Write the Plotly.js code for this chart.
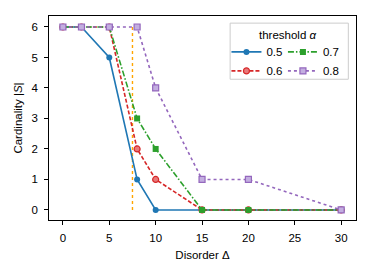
<!DOCTYPE html>
<html><head><meta charset="utf-8">
<script src="https://cdn.plot.ly/plotly-3.0.1.min.js"></script>
<style>html,body{margin:0;padding:0;background:#fff}#c{width:373px;height:274px}</style>
</head><body><div id="c"></div>
<script>
const disorder = [0, 2, 5, 8, 10, 15, 20, 30];
const card05 = [6, 6, 5, 1, 0, 0, 0, 0];
const card06 = [6, 6, 6, 2, 1, 0, 0, 0];
const card07 = [6, 6, 6, 3, 2, 0, 0, 0];
const card08 = [6, 6, 6, 6, 4, 1, 1, 0];
const thresholdLabels = ['0.5', '0.6', '0.7', '0.8'];
const criticalX = [7.5, 7.5];
const criticalY = [0, 6];

const F = 'Liberation Sans, Arial, Helvetica, sans-serif';
const FS = 11.5;
const traces = [
  {x: criticalX, y: criticalY, mode: 'lines', line: {color: '#ffa500', dash: 'dot', width: 1.4}, showlegend: false, hoverinfo: 'skip'},
  {x: disorder, y: card05, name: thresholdLabels[0], mode: 'lines+markers', legend: 'legend',
   line: {color: '#1f77b4', width: 1.6}, marker: {symbol: 'circle', size: 6, color: '#1f77b4'}},
  {x: disorder, y: card06, name: thresholdLabels[1], mode: 'lines+markers', legend: 'legend',
   line: {color: '#d62728', width: 1.6, dash: '4px,2px'}, marker: {symbol: 'circle', size: 6, color: '#e8787a', line: {color: '#d62728', width: 1.2}}},
  {x: disorder, y: card07, name: thresholdLabels[2], mode: 'lines+markers', legend: 'legend2',
   line: {color: '#2ca02c', width: 1.6, dash: '6px,2px,1.5px,2px'}, marker: {symbol: 'square', size: 6, color: '#2ca02c'}},
  {x: disorder, y: card08, name: thresholdLabels[3], mode: 'lines+markers', legend: 'legend2',
   line: {color: '#9467bd', width: 1.6, dash: 'dot'}, marker: {symbol: 'square', size: 6, color: '#c3aee0', line: {color: '#9467bd', width: 1.2}}}
];
const axisCommon = {showline: true, mirror: true, linecolor: '#000', linewidth: 1.2, ticks: 'outside', ticklen: 3.5, tickwidth: 1, tickcolor: '#000',
  showgrid: false, zeroline: false, tickfont: {family: F, size: FS, color: '#000'}};
const layout = {
  width: 373, height: 274,
  margin: {l: 49, r: 17, t: 16, b: 54},
  paper_bgcolor: '#fff', plot_bgcolor: '#fff',
  font: {family: F, size: FS, color: '#000'},
  xaxis: Object.assign({}, axisCommon, {range: [-1.5, 31.6], tickvals: [0, 5, 10, 15, 20, 25, 30], ticklabelstandoff: 3,
    title: {text: 'Disorder Δ', font: {family: F, size: FS}, standoff: 8}}),
  yaxis: Object.assign({}, axisCommon, {range: [-0.33, 6.36], tickvals: [0, 1, 2, 3, 4, 5, 6], ticklabelstandoff: 4,
    title: {text: 'Cardinality |<i>S</i>|', font: {family: F, size: FS}, standoff: 6}}),
  legend: {x: 0.578, y: 0.895, xanchor: 'left', yanchor: 'top', bgcolor: 'rgba(0,0,0,0)', itemwidth: 30,
    font: {family: F, size: FS}, tracegroupgap: 0},
  legend2: {x: 0.762, y: 0.895, xanchor: 'left', yanchor: 'top', bgcolor: 'rgba(0,0,0,0)', itemwidth: 30,
    font: {family: F, size: FS}, tracegroupgap: 0},
  shapes: [{type: 'rect', xref: 'paper', yref: 'paper', x0: 0.59, x1: 0.975, y0: 0.69, y1: 0.965,
    line: {color: '#cccccc', width: 1}, fillcolor: 'rgba(255,255,255,0.8)', layer: 'above'}],
  annotations: [{xref: 'paper', yref: 'paper', x: 0.78, y: 0.905, xanchor: 'center', yanchor: 'middle', showarrow: false,
    text: 'threshold <i>α</i>', font: {family: F, size: FS}}]
};
Plotly.newPlot('c', traces, layout, {displayModeBar: false, staticPlot: true});
</script></body></html>
